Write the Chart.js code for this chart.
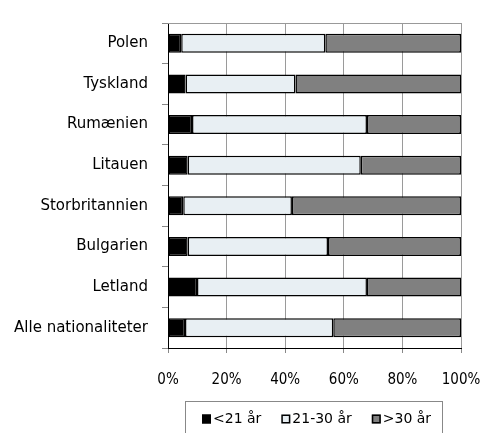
<!DOCTYPE html>
<html>
<head>
<meta charset="utf-8">
<script src="https://cdn.jsdelivr.net/npm/chart.js@4"></script>
<style>
    html, body { margin: 0; padding: 0; background: #fff; }
    #wrap { width: 480px; height: 433px; }
</style>
</head>
<body>
<div id="wrap"><canvas id="age-chart" width="480" height="433"></canvas></div>
<script>
// andel af personer fordelt på alder, pr. nationalitet (%)
const countries = ['Polen', 'Tyskland', 'Rumænien', 'Litauen', 'Storbritannien', 'Bulgarien', 'Letland', 'Alle nationaliteter'];
const under21 = [4.5, 6.0, 8.2, 6.7, 5.2, 6.7, 9.9, 5.8];
const age21to30 = [49.2, 37.5, 59.7, 59.1, 37.1, 47.9, 58.0, 50.6];
const over30 = [46.3, 56.5, 32.1, 34.2, 57.7, 45.4, 32.1, 43.6];
const seriesNames = ['<21 år', '21-30 år', '>30 år'];
const xTickValues = [0, 20, 40, 60, 80, 100];

const seriesColors = ['#000000', '#e8eff3', '#808080'];
const labelFont = { family: 'DejaVu Sans', size: 15 };
const legendFont = { family: 'DejaVu Sans', size: 14 };
const tickFont = { family: "'Liberation Sans Narrow', 'DejaVu Sans Condensed', sans-serif", size: 15 };

// grå ramme øverst i plotområdet
const plotFrame = {
    id: 'plotFrame',
    afterDatasetsDraw(chart) {
        const { ctx, chartArea } = chart;
        ctx.save();
        ctx.strokeStyle = '#999';
        ctx.lineWidth = 1;
        ctx.beginPath();
        ctx.moveTo(chartArea.left, chartArea.top + 0.5);
        ctx.lineTo(chartArea.right, chartArea.top + 0.5);
        ctx.stroke();
        ctx.restore();
    }
};

// forklaring i boks under diagrammet
const boxLegend = {
    id: 'boxLegend',
    afterDraw(chart) {
        const ctx = chart.ctx;
        const frameLeft = 185.5, frameRight = 442.5, frameTop = 401.5;
        const midY = 419;
        const box = 9, textGap = 2, itemGap = 20;

        ctx.save();
        ctx.strokeStyle = '#888';
        ctx.lineWidth = 1;
        ctx.strokeRect(frameLeft, frameTop, frameRight - frameLeft, 60);

        ctx.font = `${legendFont.size}px ${legendFont.family}`;
        ctx.textBaseline = 'middle';
        const sets = chart.data.datasets;
        const widths = sets.map(ds => box + textGap + ctx.measureText(ds.label).width);
        const total = widths.reduce((a, b) => a + b, 0) + itemGap * (sets.length - 1);
        let x = Math.round((frameLeft + frameRight) / 2 - total / 2 + 3);

        sets.forEach((ds, i) => {
            ctx.fillStyle = ds.backgroundColor;
            ctx.fillRect(x, midY - box / 2, box, box);
            ctx.strokeStyle = '#000';
            ctx.lineWidth = 1.5;
            ctx.strokeRect(x + 0.75, midY - box / 2 + 0.75, box - 1.5, box - 1.5);
            ctx.fillStyle = '#000';
            ctx.fillText(ds.label, x + box + textGap, midY);
            x += widths[i] + itemGap;
        });
        ctx.restore();
    }
};

const barStyle = {
    borderColor: '#000',
    borderWidth: 1.5,
    borderSkipped: false,
    barPercentage: 0.47,
    categoryPercentage: 1
};

const ctx = document.getElementById('age-chart').getContext('2d');
new Chart(ctx, {
    type: 'bar',
    data: {
        labels: countries,
        datasets: [
            { label: seriesNames[0], data: under21, backgroundColor: seriesColors[0], ...barStyle },
            { label: seriesNames[1], data: age21to30, backgroundColor: seriesColors[1], ...barStyle },
            { label: seriesNames[2], data: over30, backgroundColor: seriesColors[2], ...barStyle }
        ]
    },
    options: {
        indexAxis: 'y',
        responsive: false,
        animation: false,
        devicePixelRatio: 1,
        layout: { padding: { top: 10, right: 19, left: 0, bottom: 0 } },
        plugins: {
            legend: { display: false },
            tooltip: { enabled: false }
        },
        scales: {
            x: {
                stacked: true,
                min: 0,
                max: 100,
                afterBuildTicks: scale => {
                    scale.ticks = xTickValues.map(v => ({ value: v }));
                },
                afterFit: scale => {
                    scale.height = 85;
                    scale.paddingLeft = 0;
                    scale.paddingRight = 0;
                },
                ticks: {
                    callback: v => v + '%',
                    font: tickFont,
                    color: '#000',
                    padding: 18,
                    maxRotation: 0
                },
                grid: { color: '#9a9a9a', lineWidth: 1, tickColor: '#888', tickLength: 5 },
                border: { color: '#000', width: 1 }
            },
            y: {
                stacked: true,
                afterFit: scale => { scale.width = 168; },
                ticks: { font: labelFont, color: '#000', padding: 14 },
                grid: { drawOnChartArea: false, offset: true, color: '#888', tickLength: 6 },
                border: { color: '#000', width: 1 }
            }
        }
    },
    plugins: [plotFrame, boxLegend]
});
</script>
</body>
</html>
